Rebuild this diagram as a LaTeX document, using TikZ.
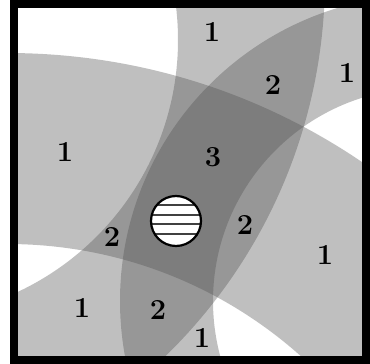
\documentclass[tikz,border=0pt]{standalone}
\begin{document}
\begin{tikzpicture}[x=1pt, y=-1pt,
    ring/.style={fill=black!69, fill opacity=0.36, even odd rule},
    num/.style={font=\fontsize{29}{29}\selectfont\bfseries, inner sep=0pt}]
  \useasboundingbox (0,0) rectangle (370,364);
  % 三个环的圆心
  \coordinate (ca) at (7,685);
  \coordinate (cbin) at (-100,40);
  \coordinate (cbout) at (-203,-22);
  \coordinate (cc) at (426,301);

  % 环带
  \begin{scope}
    \clip (18,8) rectangle (363,355);
    \fill[ring] (ca) circle (632) (ca) circle (441);
    \fill[ring] (cbout) circle (528) (cbin) circle (278);
    \fill[ring] (cc) circle (306) (cc) circle (213);
  \end{scope}

  % 目标
  \coordinate (tgt) at (176,221);
  \fill[white] (tgt) circle (25);
  \begin{scope}
    \clip (tgt) circle (25);
    \foreach \dy in {-16,-6,3,13}
      \draw[line width=1.2pt, black!75] (tgt) ++(-30,\dy) -- ++(60,0);
  \end{scope}
  \draw[line width=2.2pt] (tgt) circle (25);

  % 数字
  \node[num] (top1)  at (212,32)  {1};
  \node[num] (top2)  at (273,85)  {2};
  \node[num] (rt1)   at (347,73)  {1};
  \node[num] (lf1)   at (65,152)  {1};
  \node[num] (mid3)  at (213,157) {3};
  \node[num] (lf2)   at (112,237) {2};
  \node[num] (rt2)   at (245,225) {2};
  \node[num] (rb1)   at (325,255) {1};
  \node[num] (lb1)   at (82,308)  {1};
  \node[num] (bot2)  at (158,310) {2};
  \node[num] (bot1)  at (202,338) {1};

  % 边框
  \draw[line width=8pt] (14,4) rectangle (366,359.5);
\end{tikzpicture}
\end{document}
